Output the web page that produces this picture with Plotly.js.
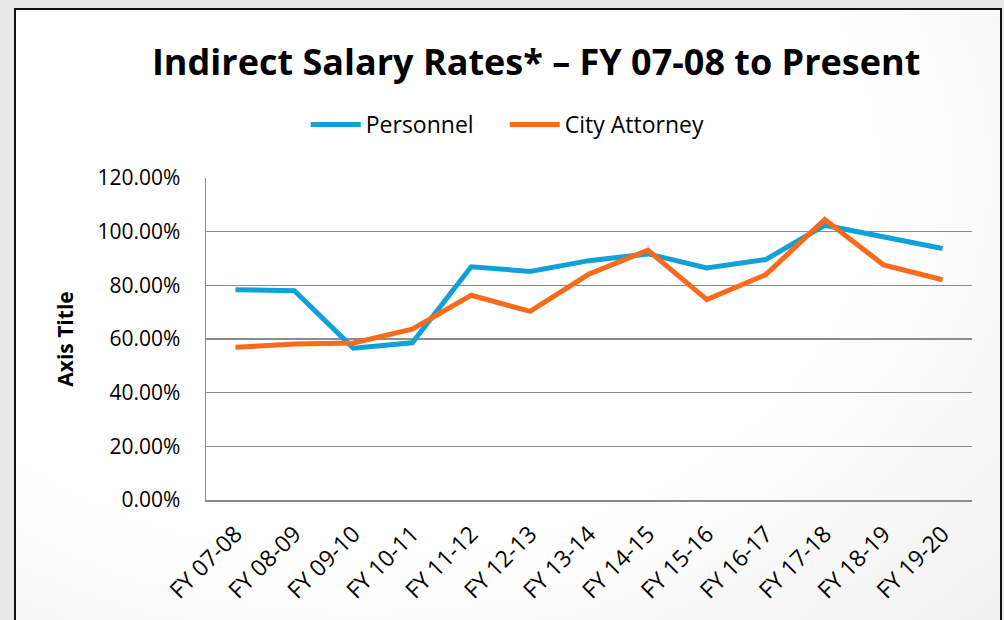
<!DOCTYPE html>
<html>
<head>
<meta charset="utf-8">
<script src="https://cdn.plot.ly/plotly-3.0.1.min.js"></script>
<style>
  html, body { margin:0; padding:0; width:1004px; height:620px; overflow:hidden; background:#e9e9e9; }
  #frame { position:absolute; left:14px; top:8px; width:988px; height:640px; border:2px solid #111; box-sizing:border-box;
    background: radial-gradient(ellipse 95% 110% at 35% 25%, #ffffff 55%, #eeeeee 100%); }
  #chart { position:absolute; left:0; top:0; width:1004px; height:620px; }
</style>
</head>
<body>
<div id="frame"></div>
<div id="chart"></div>
<script>
const categories = ["FY 07-08","FY 08-09","FY 09-10","FY 10-11","FY 11-12","FY 12-13","FY 13-14","FY 14-15","FY 15-16","FY 16-17","FY 17-18","FY 18-19","FY 19-20"];
const personnel = [0.784, 0.780, 0.566, 0.586, 0.869, 0.852, 0.892, 0.917, 0.865, 0.896, 1.024, 0.979, 0.937];
const cityAttorney = [0.569, 0.581, 0.585, 0.637, 0.763, 0.703, 0.842, 0.931, 0.747, 0.840, 1.045, 0.876, 0.821];
const seriesNames = ["Personnel", "City Attorney"];
const yTickVals = [0, 0.2, 0.4, 0.6, 0.8, 1.0, 1.2];

const FONT = "Open Sans, sans-serif";
const traces = [
  { x: categories, y: personnel, name: seriesNames[0], type: "scatter", mode: "lines",
    line: { color: "#0FA1D8", width: 5 } },
  { x: categories, y: cityAttorney, name: seriesNames[1], type: "scatter", mode: "lines",
    line: { color: "#F96A1B", width: 5 } }
];
const layout = {
  width: 1004, height: 620,
  margin: { l: 206, r: 32, t: 178, b: 120 },
  paper_bgcolor: "rgba(0,0,0,0)", plot_bgcolor: "rgba(0,0,0,0)",
  font: { family: FONT, color: "#000", size: 21 },
  title: { text: "<b>Indirect Salary Rates* \u2013 FY 07-08 to Present</b>", x: 0.534, xref: "container", xanchor: "center",
    y: 0.9, yref: "container", yanchor: "middle", font: { family: FONT, size: 36, color: "#000" } },
  showlegend: true,
  legend: { orientation: "h", x: 0.390, xanchor: "center", y: 1.166, yanchor: "middle",
    font: { family: FONT, size: 23, color: "#000" }, bgcolor: "rgba(0,0,0,0)", itemwidth: 50,
    entrywidth: 134, entrywidthmode: "pixels" },
  xaxis: { type: "category", range: [-0.5, 12.5], tickangle: -45, showgrid: false, showline: true, linecolor: "#8c8c8c", linewidth: 1.5,
    ticks: "", tickfont: { family: FONT, size: 23 }, ticklabelstandoff: 10, automargin: false },
  yaxis: { range: [0, 1.2], tickvals: yTickVals, tickformat: ".2%", showgrid: true, gridcolor: "#8c8c8c", gridwidth: 1.5,
    showline: true, linecolor: "#8c8c8c", linewidth: 1.5, zeroline: false, ticks: "", ticklabelstandoff: 20,
    tickfont: { family: FONT, size: 21 }, automargin: false,
    title: { text: "<b>Axis Title</b>", font: { family: FONT, size: 21 }, standoff: 18 } }
};
Plotly.newPlot("chart", traces, layout, { displayModeBar: false, staticPlot: true });
</script>
</body>
</html>
